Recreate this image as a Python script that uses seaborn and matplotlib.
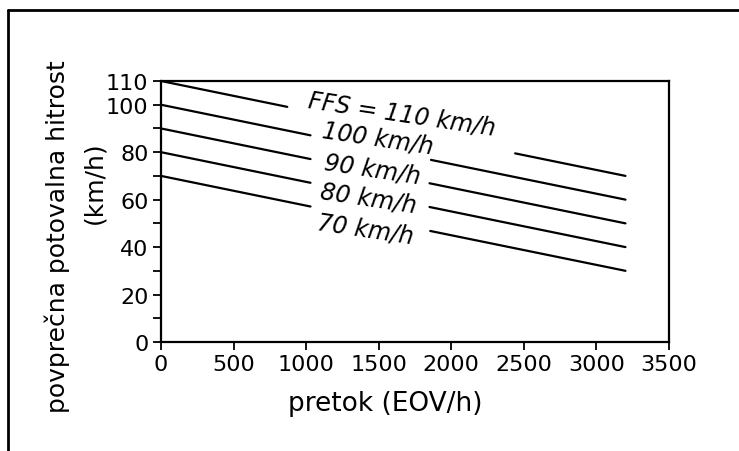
import matplotlib
matplotlib.use("Agg")
import matplotlib.pyplot as plt
from matplotlib.lines import Line2D
from matplotlib.ticker import FixedLocator
import pandas as pd
import seaborn as sns

# Average travel speed vs. flow for several free-flow speeds (FFS).
# Each curve is stored as two straight pieces, broken where its label sits.
curve_labels = ["FFS = 110 km/h", "100 km/h", "90 km/h", "80 km/h", "70 km/h"]
seg_flow = [
    [[0, 870], [2440, 3200]],
    [[0, 1030], [1860, 3200]],
    [[0, 1030], [1850, 3200]],
    [[0, 1030], [1850, 3200]],
    [[0, 1030], [1855, 3200]],
]
seg_speed = [
    [[110, 99.1], [79.5, 70]],
    [[100, 87.1], [76.75, 60]],
    [[90, 77.1], [66.9, 50]],
    [[80, 67.1], [56.9, 40]],
    [[70, 57.1], [46.8, 30]],
]
x_ticks = [0, 500, 1000, 1500, 2000, 2500, 3000, 3500]
y_major = [0, 20, 40, 60, 80, 100, 110]
y_minor = [10, 30, 50, 70, 90]

rows = []
for ci, (flows, speeds) in enumerate(zip(seg_flow, seg_speed)):
    for si, (fx, sy) in enumerate(zip(flows, speeds)):
        for f, s in zip(fx, sy):
            rows.append({"curve": ci, "piece": f"{ci}-{si}", "flow": f, "speed": s})
df = pd.DataFrame(rows)

sns.set_theme(style="ticks")
plt.rcParams["font.family"] = ["DejaVu Sans"]

fig = plt.figure(figsize=(7.39, 4.52), dpi=100)
ax = fig.add_axes([161 / 739, 1 - 343 / 452, 508 / 739, 261 / 452])

sns.lineplot(data=df, x="flow", y="speed", units="piece", estimator=None,
             color="black", linewidth=1.6, legend=False, ax=ax)

ax.set_xlim(0, 3500)
ax.set_ylim(0, 110)
ax.xaxis.set_major_locator(FixedLocator(x_ticks))
ax.yaxis.set_major_locator(FixedLocator(y_major))
ax.yaxis.set_minor_locator(FixedLocator(y_minor))
ax.set_xticklabels([str(v) for v in x_ticks])
ax.set_yticklabels([str(v) for v in y_major])

for side in ["left", "right", "top", "bottom"]:
    ax.spines[side].set_visible(True)
    ax.spines[side].set_color("black")
    ax.spines[side].set_linewidth(1.6)

ax.tick_params(axis="both", which="both", direction="out", length=6,
               width=1.3, color="black", labelsize=16, labelcolor="black", pad=3)

ax.set_xlabel("")
ax.set_ylabel("")

# curve labels, placed in the breaks of their curves
label_pos = [(1660, 96.1), (1495, 86.0), (1454, 72.9), (1426, 60.7), (1406, 47.6)]
for text, (lx, ly) in zip(curve_labels, label_pos):
    ax.text(lx, ly, text, fontsize=17, fontstyle="italic", rotation=-8.5,
            rotation_mode="anchor", ha="center", va="center", color="black")

# axis titles
fig.text(385 / 739, 1 - 404 / 452, "pretok (EOV/h)", fontsize=19,
         ha="center", va="center", color="black")
fig.text(57 / 739, 1 - 236.5 / 452, "povprečna potovalna hitrost", fontsize=18,
         rotation=90, ha="center", va="center", color="black")
fig.text(94 / 739, 1 - 183 / 452, "(km/h)", fontsize=18,
         rotation=90, ha="center", va="center", color="black")

# open frame along the top and left edges
fig.add_artist(Line2D([8 / 739, 1.0], [1 - 11 / 452, 1 - 11 / 452],
                      transform=fig.transFigure, color="black", linewidth=2))
fig.add_artist(Line2D([8 / 739, 8 / 739], [1 - 11 / 452, 0.0],
                      transform=fig.transFigure, color="black", linewidth=2))

fig.savefig("out.png", dpi=100, facecolor="white")
